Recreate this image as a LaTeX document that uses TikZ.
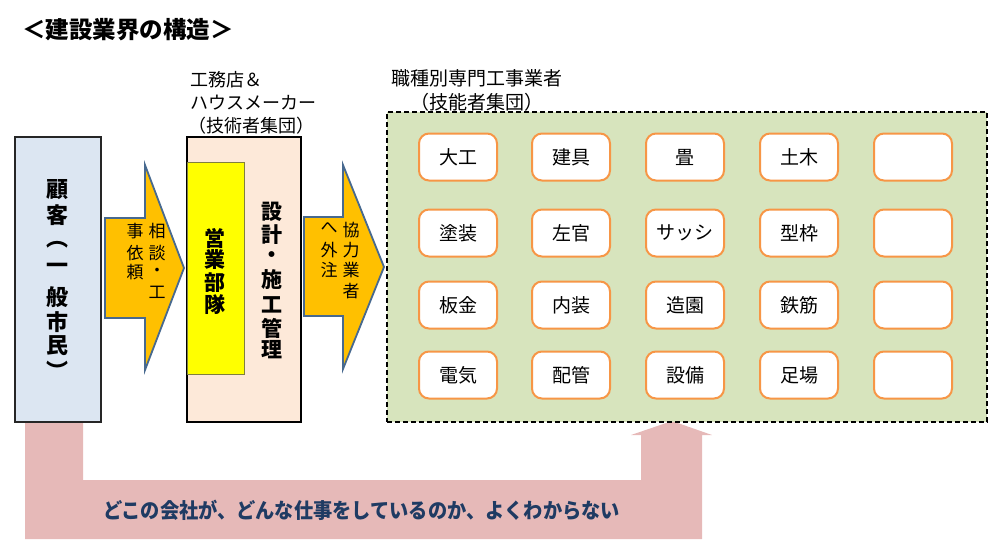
\documentclass[tikz,border=0pt]{standalone}
\usepackage{fontspec}
\setmainfont{Noto Sans CJK JP}
\definecolor{custfill}{HTML}{DCE6F2}
\definecolor{compfill}{HTML}{FDE9D9}
\definecolor{yel}{HTML}{FFFF00}
\definecolor{yelline}{HTML}{7F7F40}
\definecolor{greenfill}{HTML}{D7E4BD}
\definecolor{tradeline}{HTML}{F79646}
\definecolor{arrowfill}{HTML}{FFC000}
\definecolor{arrowline}{HTML}{47698F}
\definecolor{pinkc}{HTML}{E6B9B8}
\definecolor{navytext}{HTML}{1F3B63}
\begin{document}
\begin{tikzpicture}[x=1pt,y=-1pt,
  every node/.style={inner sep=0pt, outer sep=0pt},
  trade/.style={draw=tradeline, line width=2pt, fill=white, rounded corners=10pt,
    minimum width=78pt, minimum height=47pt, font=\fontsize{19}{19}\selectfont},
  blockarrow/.style={fill=arrowfill, draw=arrowline, line width=1.8pt, line join=miter},
  vbold/.style={font=\bfseries\fontsize{21}{21}\selectfont},
  vbig/.style={font=\bfseries\fontsize{22}{22}\selectfont},
  vsmall/.style={font=\fontsize{17}{17}\selectfont},
  label/.style={anchor=west, font=\fontsize{18}{18}\selectfont}]
\useasboundingbox (0,0) rectangle (1000,539);

% title
\node[anchor=west, font=\bfseries\fontsize{23.5}{24}\selectfont] (title) at (22,30) {＜建設業界の構造＞};

% pink U-turn arrow
\fill[pinkc] (25,423) -- (83,423) -- (83,480) -- (641,480) -- (641,435) -- (631,435)
  -- (672,421) -- (712,435) -- (702,435) -- (702,539) -- (25,539) -- cycle;
\node[anchor=west, text=navytext, font=\bfseries\fontsize{21}{21}\selectfont] (msg) at (103,510)
  {\scalebox{0.915}[1]{どこの会社が、どんな仕事をしているのか、よくわからない}};

% customer
\node[draw=black!85, line width=1.5pt, fill=custfill, minimum width=86pt, minimum height=285pt] (cust) at (58,279.5) {};
\foreach \ch/\yy [count=\i] in {顧/190,客/215,︵/245,一/268,般/297,市/322,民/346,︶/370}
  \node[vbig] (cu\i) at (57,\yy) {\ch};

% arrow 1
\draw[blockarrow] (105,218) -- (145,218) -- (145,165) -- (184,268) -- (145,370) -- (145,318) -- (105,318) -- cycle;
\foreach \ch/\yy [count=\i] in {相/231,談/253,・/272,工/292}
  \node[vsmall] (aa\i) at (157,\yy) {\ch};
\foreach \ch/\yy [count=\i] in {事/231,依/253,頼/272}
  \node[vsmall] (ab\i) at (135,\yy) {\ch};

% company
\node[draw=black, line width=1.5pt, fill=compfill, minimum width=114pt, minimum height=285pt] (comp) at (244,279.5) {};
\node[draw=yelline, line width=0.8pt, fill=yel, minimum width=57pt, minimum height=212pt] (sales) at (215.5,268) {};
\foreach \ch/\yy [count=\i] in {営/238,業/260,部/283,隊/305}
  \node[vbold] (sa\i) at (215,\yy) {\ch};
\foreach \ch/\yy [count=\i] in {設/212,計/235,・/257,施/280,工/305,管/328,理/350}
  \node[vbold] (de\i) at (272,\yy) {\ch};
\node[label] (l1) at (190,80) {工務店＆};
\node[label] (l2) at (190,103) {ハウスメーカー};
\node[label] (l3) at (188,126) {（技術者集団）};

% arrow 2
\draw[blockarrow] (304,217) -- (343,217) -- (343,165) -- (384,267) -- (343,369) -- (343,316) -- (304,316) -- cycle;
\foreach \ch/\yy [count=\i] in {協/230,力/250,業/270,者/291}
  \node[vsmall] (ba\i) at (351,\yy) {\ch};
\foreach \ch/\yy [count=\i] in {へ/228,外/250,注/270}
  \node[vsmall] (bb\i) at (329,\yy) {\ch};

% specialists
\node[draw=black, line width=1.5pt, dash pattern=on 5pt off 3pt, fill=greenfill, minimum width=600pt, minimum height=310pt] (spec) at (687,267) {};
\node[anchor=west, font=\fontsize{19}{19}\selectfont] (s1) at (391,78) {職種別専門工事業者};
\node[anchor=west, font=\fontsize{19}{19}\selectfont] (s2) at (410,102) {（技能者集団）};

\foreach \r/\yy in {1/157,2/233,3/305,4/375}{
  \foreach \c/\xx in {1/458,2/571,3/685,4/799,5/913}{
    \node[trade] (t\r\c) at (\xx,\yy) {};
  }
}
\foreach \nm/\txt in {t11/大工,t12/建具,t13/畳,t14/土木,t21/塗装,t22/左官,t23/サッシ,t24/型枠,
                      t31/板金,t32/内装,t33/造園,t34/鉄筋,t41/電気,t42/配管,t43/設備,t44/足場}
  \node[font=\fontsize{19}{19}\selectfont] (\nm txt) at (\nm) {\txt};
\end{tikzpicture}
\end{document}
